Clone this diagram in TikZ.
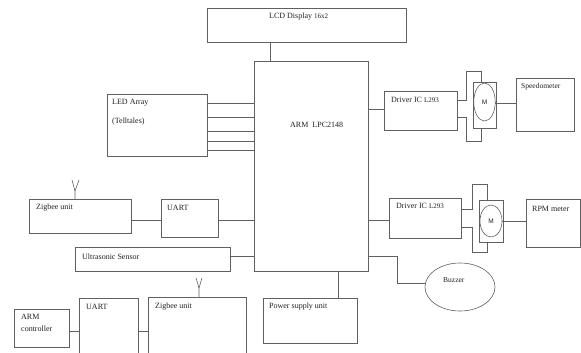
\documentclass[tikz,border=0pt]{standalone}
\usepackage{fontspec}
\setmainfont{Liberation Serif}
\newfontfamily\msans{Liberation Sans}
\usetikzlibrary{shapes.geometric}
\definecolor{lc}{HTML}{606060}
\definecolor{tc}{HTML}{202020}
\begin{document}
\begin{tikzpicture}[x=1pt,y=-1pt,
  box/.style={draw=lc,line width=0.6pt,inner sep=0pt,outer sep=0pt,anchor=north west},
  openbox/.style={draw=none,inner sep=0pt,outer sep=0pt,anchor=north west},
  lbl/.style={font=\fontsize{8}{9}\selectfont,anchor=west,inner sep=0pt,text=tc},
  mlbl/.style={font=\msans\fontsize{6.5}{8}\selectfont,anchor=center,inner sep=0pt,text=tc},
  wire/.style={draw=lc,line width=0.6pt},
  oval/.style={ellipse,draw=lc,line width=0.6pt,inner sep=0pt,outer sep=0pt}]
\useasboundingbox (0,0) rectangle (581,353);
% boxes
\node[box,minimum width=199pt,minimum height=34pt] (lcd) at (207,8) {};
\node[box,minimum width=114pt,minimum height=210pt] (arm) at (254,61) {};
\node[box,minimum width=100pt,minimum height=62pt] (led) at (107,94) {};
\node[box,minimum width=73pt,minimum height=39pt] (drv1) at (384,91) {};
\node[box,minimum width=23pt,minimum height=46pt] (mot1) at (473,82) {};
\node[oval,minimum width=21.5pt,minimum height=38pt] (m1) at (484.5,102) {};
\node[box,minimum width=58pt,minimum height=53pt] (speedo) at (516,78) {};
\node[box,minimum width=72pt,minimum height=40pt] (drv2) at (389,198) {};
\node[box,minimum width=24pt,minimum height=42pt] (mot2) at (479,200) {};
\node[oval,minimum width=22pt,minimum height=32pt] (m2) at (491,221) {};
\node[box,minimum width=54pt,minimum height=48pt] (rpm) at (526,199) {};
\node[oval,minimum width=70pt,minimum height=48pt] (buzz) at (460,287) {};
\node[box,minimum width=94pt,minimum height=45pt] (power) at (263,298) {};
\node[box,minimum width=102pt,minimum height=34pt] (zig1) at (29,199) {};
\node[box,minimum width=57pt,minimum height=38pt] (uart1) at (161,199) {};
\node[box,minimum width=155pt,minimum height=24pt] (ultra) at (75,247) {};
\node[box,minimum width=55pt,minimum height=38pt] (armc) at (14,309) {};
\node[openbox,minimum width=59pt,minimum height=55pt] (uart2) at (79,298) {};
\node[openbox,minimum width=98pt,minimum height=56pt] (zig2) at (148,297) {};
\draw[wire] (uart2.south west) -- (uart2.north west) -- (uart2.north east) -- (uart2.south east);
\draw[wire] (zig2.south west) -- (zig2.north west) -- (zig2.north east) -- (zig2.south east);
% labels
\node[lbl] (tlcd) at (269,17) {LCD Display {\fontsize{7}{8}\selectfont 16x2}};
\node[lbl] (tled1) at (112,103) {LED Array};
\node[lbl] (tled2) at (112,122) {(Telltales)};
\node[lbl] (tarm) at (290,125) {ARM\ \ LPC2148};
\node[lbl] (tdrv1) at (391,100) {Driver IC {\fontsize{7}{8}\selectfont L293}};
\node[mlbl] (tm1) at (484.5,102) {M};
\node[lbl,font=\fontsize{7.5}{8}\selectfont] (tspeedo) at (521,87) {Speedometer};
\node[lbl] (tdrv2) at (396,206) {Driver IC {\fontsize{7}{8}\selectfont L293}};
\node[mlbl] (tm2) at (491,221) {M};
\node[lbl] (trpm) at (532,209) {RPM meter};
\node[lbl,font=\fontsize{7.5}{8}\selectfont] (tbuzz) at (443,280) {Buzzer};
\node[lbl] (tpower) at (269,307) {Power supply unit};
\node[lbl] (tzig1) at (36,208) {Zigbee unit};
\node[lbl] (tuart1) at (167,208) {UART};
\node[lbl] (tultra) at (82,257) {Ultrasonic Sensor};
\node[lbl] (tarmc1) at (21,317) {ARM};
\node[lbl] (tarmc2) at (21,329) {controller};
\node[lbl] (tuart2) at (86,307) {UART};
\node[lbl] (tzig2) at (155,307) {Zigbee unit};
% connectors
\draw[wire] (lcd.south -| 270,0) -- (arm.north -| 270,0);
\foreach \yy in {103,117,131,141,150}
  \draw[wire] (led.east |- 0,\yy) -- (arm.west |- 0,\yy);
\draw[wire] (arm.east |- 0,109) -- (drv1.west |- 0,109);
\draw[wire] (drv1.east |- 0,100) -- (466,100) -- (466,71) -- (481,71) -- (mot1.north -| 481,0);
\draw[wire] (drv1.east |- 0,117) -- (466,117) -- (466,141) -- (481,141) -- (mot1.south -| 481,0);
\draw[wire] (m1.east |- 0,103) -- (speedo.west |- 0,103);
\draw[wire] (arm.east |- 0,220) -- (drv2.west |- 0,220);
\draw[wire] (drv2.east |- 0,209) -- (472,209) -- (472,184) -- (487,184) -- (mot2.north -| 487,0);
\draw[wire] (drv2.east |- 0,227) -- (472,227) -- (472,252) -- (487,252) -- (mot2.south -| 487,0);
\draw[wire] (m2.east) -- (rpm.west |- m2.east);
\draw[wire] (arm.east |- 0,256) -- (397,256) -- (397,283) -- (buzz.west |- 0,283);
\draw[wire] (arm.south -| 338,0) -- (power.north -| 338,0);
\draw[wire] (zig1.east |- 0,220) -- (uart1.west |- 0,220);
\draw[wire] (uart1.east |- 0,220) -- (arm.west |- 0,220);
\draw[wire] (ultra.east |- 0,256) -- (arm.west |- 0,256);
\draw[wire] (armc.east |- 0,331) -- (uart2.west |- 0,331);
\draw[wire] (uart2.east |- 0,331) -- (zig2.west |- 0,331);
% antennas
\draw[wire] (zig1.north -| 75,0) -- (75,191) -- (72,180);
\draw[wire] (75,191) -- (79,180);
\draw[wire] (zig2.north -| 199,0) -- (199,288) -- (196,278);
\draw[wire] (199,288) -- (202,278);
\end{tikzpicture}
\end{document}
